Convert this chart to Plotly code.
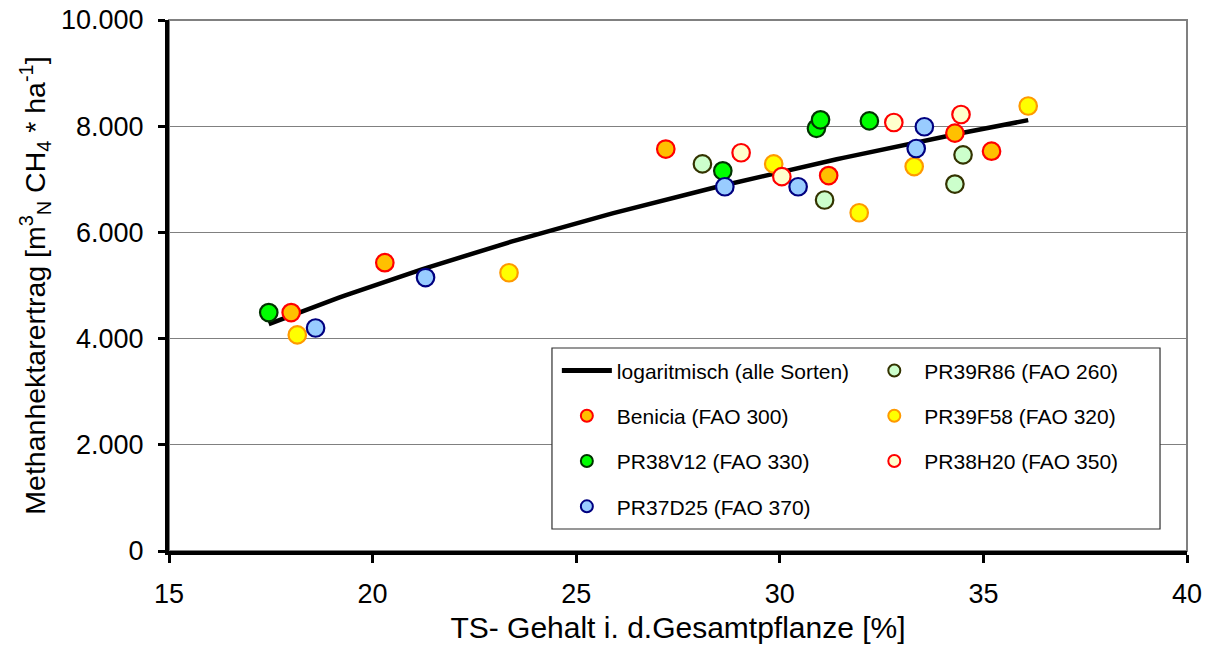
import numpy as np
import plotly.graph_objects as go

# --- data ---
ts_pr39r86 = [28.1, 31.1, 34.3, 34.5]
ch4_pr39r86 = [7290, 6610, 6910, 7460]

ts_benicia = [18.0, 20.3, 27.2, 31.2, 34.3, 35.2]
ch4_benicia = [4490, 5430, 7570, 7070, 7870, 7530]

ts_pr39f58 = [18.15, 23.35, 29.85, 31.95, 33.3, 36.1]
ch4_pr39f58 = [4070, 5240, 7290, 6370, 7240, 8380]

ts_pr38v12 = [17.45, 28.6, 30.9, 31.0, 32.2]
ch4_pr38v12 = [4490, 7160, 7960, 8120, 8100]

ts_pr38h20 = [29.05, 30.05, 32.8, 34.45]
ch4_pr38h20 = [7500, 7050, 8070, 8220]

ts_pr37d25 = [18.6, 21.3, 28.65, 30.45, 33.35, 33.55]
ch4_pr37d25 = [4200, 5150, 6860, 6860, 7580, 7990]

x_ticks = [15, 20, 25, 30, 35, 40]
y_ticks = [0, 2000, 4000, 6000, 8000, 10000]

series = [
    ("PR39R86 (FAO 260)", ts_pr39r86, ch4_pr39r86, "#CCFFCC", "#333300", "legend2"),
    ("Benicia (FAO 300)", ts_benicia, ch4_benicia, "#FFC000", "#FF0000", "legend"),
    ("PR39F58 (FAO 320)", ts_pr39f58, ch4_pr39f58, "#FFFF00", "#FF9900", "legend2"),
    ("PR38V12 (FAO 330)", ts_pr38v12, ch4_pr38v12, "#00FF00", "#003300", "legend"),
    ("PR38H20 (FAO 350)", ts_pr38h20, ch4_pr38h20, "#FFFFCC", "#FF0000", "legend2"),
    ("PR37D25 (FAO 370)", ts_pr37d25, ch4_pr37d25, "#99CCFF", "#000080", "legend"),
]

# logarithmic trend over all varieties (least squares on ln x)
all_x = np.concatenate([np.array(s[1], float) for s in series])
all_y = np.concatenate([np.array(s[2], float) for s in series])
coef_a, coef_b = np.polyfit(np.log(all_x), all_y, 1)
trend_x = np.linspace(all_x.min(), all_x.max(), 120)
trend_y = coef_a * np.log(trend_x) + coef_b

FONT = "Liberation Sans, Arial, sans-serif"

fig = go.Figure()
fig.add_trace(go.Scatter(
    x=trend_x, y=trend_y, mode="lines", name="logaritmisch (alle Sorten)",
    line=dict(color="black", width=4.5), legend="legend",
    legendgroup="trend", hoverinfo="skip"))

for name, xs, ys, fill, edge, leg in series:
    fig.add_trace(go.Scatter(
        x=xs, y=ys, mode="markers", name=name, legend=leg, legendgroup=name,
        marker=dict(size=17.5, color=fill, line=dict(color=edge, width=2.2))))

legend_common = dict(
    xanchor="left", yanchor="top", bgcolor="rgba(0,0,0,0)", borderwidth=0,
    font=dict(family=FONT, size=21, color="black"), tracegroupgap=15,
    itemsizing="constant", itemwidth=50)

fig.update_layout(
    width=1215, height=651,
    margin=dict(l=169, r=28, t=20, b=100),
    paper_bgcolor="white", plot_bgcolor="white",
    font=dict(family=FONT, color="black"),
    separators=",.",
    showlegend=True,
    legend=dict(x=0.381, y=0.378, **legend_common),
    legend2=dict(x=0.683, y=0.378, **legend_common),
    xaxis=dict(
        range=[15, 40], tickvals=x_ticks, showgrid=False, zeroline=False,
        showline=True, linewidth=4, linecolor="black",
        ticks="outside", ticklen=8, tickwidth=3, tickcolor="black",
        tickfont=dict(size=27), ticklabelstandoff=8,
        title=dict(text="TS- Gehalt i. d.Gesamtpflanze [%]",
                   font=dict(size=30), standoff=10),
        automargin=False),
    yaxis=dict(
        range=[0, 10000], tickvals=y_ticks, tickformat=",d",
        showgrid=True, gridcolor="#808080", gridwidth=1, zeroline=False,
        showline=True, linewidth=4, linecolor="black",
        ticks="outside", ticklen=7, tickwidth=3, tickcolor="black",
        tickfont=dict(size=27), ticklabelstandoff=9,
        title=dict(text="Methanhektarertrag [m<sup>3</sup><sub>N</sub> CH<sub>4</sub> * ha<sup>-1</sup>]",
                   font=dict(size=28.5), standoff=8),
        automargin=False),
    shapes=[
        dict(type="rect", xref="x domain", yref="y domain", x0=0, x1=1, y0=0, y1=1,
             line=dict(color="#808080", width=2), fillcolor="rgba(0,0,0,0)", layer="below"),
        dict(type="rect", xref="paper", yref="paper",
             x0=0.3762, x1=0.9735, y0=0.0414, y1=0.3823,
             line=dict(color="#303030", width=1.2), fillcolor="white", layer="above"),
    ],
)

fig.write_html("out.html")
